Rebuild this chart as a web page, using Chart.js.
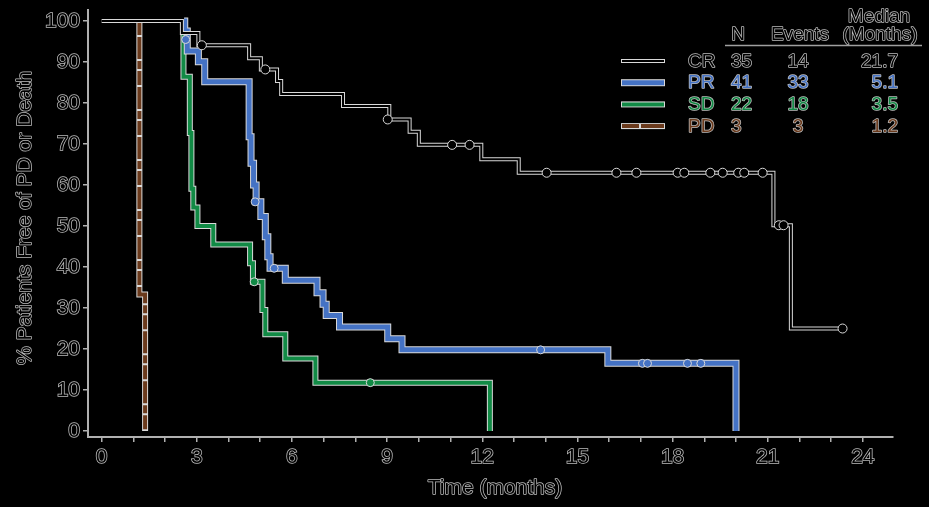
<!DOCTYPE html>
<html>
<head>
<meta charset="utf-8">
<script src="https://cdn.jsdelivr.net/npm/chart.js@4.4.0/dist/chart.umd.min.js"></script>
<style>
  html, body { margin: 0; padding: 0; background: #000; }
  #wrap { width: 929px; height: 507px; position: relative; }
</style>
</head>
<body>
<div id="wrap"><canvas id="kmChart"></canvas></div>
<script>
// Kaplan-Meier curves (time in months, % free of PD or death)
const crTime = [0, 2.53, 3.05, 4.65, 5.02, 5.53, 5.66, 7.61, 9.07, 9.71, 10.0, 11.97, 13.15, 21.18, 21.73, 23.36];
const crSurv = [100, 97.1, 94.1, 90.9, 88.2, 85.4, 82.2, 79.3, 76.0, 73.0, 69.8, 66.3, 63.0, 50.2, 25.0, 25.0];
const crCensorTime = [3.16, 5.16, 9.02, 11.05, 11.6, 14.03, 16.23, 16.86, 18.16, 18.37, 19.19, 19.58, 20.07, 20.26, 20.84, 21.35, 21.5, 23.36];
const crCensorSurv = [94.1, 88.2, 76.0, 69.8, 69.8, 63.0, 63.0, 63.0, 63.0, 63.0, 63.0, 63.0, 63.0, 63.0, 63.0, 50.2, 50.2, 25.0];

const prTime = [2.6, 2.62, 2.7, 3.05, 3.25, 4.65, 4.71, 4.79, 4.87, 5.02, 5.16, 5.24, 5.31, 5.79, 6.79, 6.98, 7.08, 7.5, 9.02, 9.47, 15.96, 20.0];
const prSurv = [100, 97.6, 92.7, 90.1, 85.2, 71.8, 65.3, 60.0, 55.9, 52.3, 47.4, 42.5, 39.7, 36.8, 33.7, 30.9, 28.2, 25.4, 22.5, 19.8, 16.5, 0];
const prCensorTime = [2.65, 4.84, 5.44, 13.84, 17.05, 17.21, 18.47, 18.89];
const prCensorSurv = [95.5, 55.9, 39.7, 19.8, 16.5, 16.5, 16.5, 16.5];

const sdTime = [2.58, 2.58, 2.78, 2.83, 2.89, 3.02, 3.52, 4.68, 4.77, 5.07, 5.16, 5.79, 6.74, 12.24];
const sdSurv = [100, 86.4, 72.7, 59.1, 54.5, 50.0, 45.5, 40.9, 36.4, 29.5, 23.6, 17.7, 11.8, 0];
const sdCensorTime = [4.81, 8.47];
const sdCensorSurv = [36.4, 11.8];

const pdTime = [1.19, 1.19, 1.37];
const pdSurv = [100, 33.3, 0];

// legend table
const groups = ['CR', 'PR', 'SD', 'PD'];
const groupN = ['35', '41', '22', '3'];
const groupEvents = ['14', '33', '18', '3'];
const groupMedian = ['21.7', '5.1', '3.5', '1.2'];
const groupColors = ['#000000', '#4472c4', '#118a45', '#6b3a1c'];
const groupWidths = [2, 5, 4, 4];

const xTickLabels = [0, 3, 6, 9, 12, 15, 18, 21, 24];

const OUTLINE = '#d9d9d9';
const TEXT_EDGE = '#bdbdbd';
const FONT = '"Liberation Sans", Arial, sans-serif';

function pts(xs, ys) {
    return xs.map((x, i) => ({ x: x, y: ys[i] }));
}

function curve(label, xs, ys, idx, order, dash) {
    const w = groupWidths[idx];
    return [
        {
            label: label + ' outline', data: pts(xs, ys), stepped: 'before',
            borderColor: OUTLINE, borderWidth: w + 2, pointRadius: 0,
            borderJoinStyle: 'miter', order: order + 1
        },
        {
            label: label, data: pts(xs, ys), stepped: 'before',
            borderColor: groupColors[idx], borderWidth: w, pointRadius: 0,
            borderJoinStyle: 'miter', borderDash: dash || [], order: order
        }
    ];
}

function censors(label, xs, ys, idx) {
    return {
        label: label + ' censored', data: pts(xs, ys), showLine: false,
        pointRadius: idx === 0 ? 4.5 : 4, pointBackgroundColor: groupColors[idx],
        pointBorderColor: OUTLINE, pointBorderWidth: 1, order: 0
    };
}

function outlinedText(ctx, text, x, y, color, align) {
    ctx.textAlign = align;
    ctx.lineWidth = 1.5;
    ctx.lineJoin = 'round';
    ctx.strokeStyle = TEXT_EDGE;
    ctx.strokeText(text, x, y);
    ctx.fillStyle = color;
    ctx.fillText(text, x, y);
}

// draws axis titles and the N / Events / Median table
const decorations = {
    id: 'decorations',
    afterDraw(chart) {
        const ctx = chart.ctx;
        ctx.save();
        ctx.textBaseline = 'alphabetic';

        ctx.font = '21px ' + FONT;
        outlinedText(ctx, 'Time (months)', 495, 494, '#000', 'center');
        ctx.save();
        ctx.translate(31, 218);
        ctx.rotate(-Math.PI / 2);
        outlinedText(ctx, '% Patients Free of PD or Death', 0, 0, '#000', 'center');
        ctx.restore();

        ctx.font = '19px ' + FONT;
        outlinedText(ctx, 'Median', 879, 22, '#000', 'center');
        outlinedText(ctx, '(Months)', 880, 40, '#000', 'center');
        outlinedText(ctx, 'N', 738, 40, '#000', 'center');
        outlinedText(ctx, 'Events', 800, 40, '#000', 'center');
        ctx.strokeStyle = '#a0a0a0';
        ctx.lineWidth = 1.5;
        ctx.beginPath();
        ctx.moveTo(725, 45.5);
        ctx.lineTo(922, 45.5);
        ctx.stroke();

        groups.forEach((g, i) => {
            const base = 66.5 + i * 21.7;
            const mid = base - 5.5;
            const w = groupWidths[i];
            ctx.fillStyle = OUTLINE;
            ctx.fillRect(621, mid - w / 2 - 1, 44, w + 2);
            ctx.strokeStyle = groupColors[i];
            ctx.lineWidth = w;
            ctx.setLineDash(i === 3 ? [17, 2, 30] : []);
            ctx.beginPath();
            ctx.moveTo(622, mid);
            ctx.lineTo(664, mid);
            ctx.stroke();
            ctx.setLineDash([]);
            const c = groupColors[i];
            outlinedText(ctx, g, 688, base, c, 'left');
            outlinedText(ctx, groupN[i], 731, base, c, 'left');
            outlinedText(ctx, groupEvents[i], 798, base, c, 'center');
            outlinedText(ctx, groupMedian[i], 898, base, c, 'right');
        });
        ctx.restore();
    }
};

const datasets = [].concat(
    curve('PD', pdTime, pdSurv, 3, 8, [14, 2, 22, 2, 8, 2]),
    curve('SD', sdTime, sdSurv, 2, 6),
    curve('PR', prTime, prSurv, 1, 4),
    curve('CR', crTime, crSurv, 0, 2),
    [censors('CR', crCensorTime, crCensorSurv, 0),
     censors('PR', prCensorTime, prCensorSurv, 1),
     censors('SD', sdCensorTime, sdCensorSurv, 2)]
);

const tickFont = { family: FONT, size: 21 };

new Chart(document.getElementById('kmChart').getContext('2d'), {
    type: 'line',
    data: { datasets: datasets },
    options: {
        responsive: true,
        maintainAspectRatio: false,
        animation: false,
        layout: { padding: { top: 10, right: 36, left: 0, bottom: 0 } },
        plugins: { legend: { display: false }, tooltip: { enabled: false } },
        scales: {
            x: {
                type: 'linear',
                min: -0.43,
                max: 24.95,
                afterFit: (scale) => { scale.height = 70; scale.paddingLeft = 0; scale.paddingRight = 0; },
                border: { color: '#b0b0b0', width: 2 },
                grid: { drawOnChartArea: false, drawTicks: true, tickLength: 5, color: '#b0b0b0', lineWidth: 1.5 },
                ticks: {
                    stepSize: 1,
                    includeBounds: false,
                    autoSkip: false,
                    maxRotation: 0,
                    padding: 3,
                    color: '#000',
                    textStrokeColor: TEXT_EDGE,
                    textStrokeWidth: 1.5,
                    font: tickFont,
                    callback: (v) => xTickLabels.includes(v) ? String(v) : ''
                }
            },
            y: {
                type: 'linear',
                min: -1.46,
                max: 102.7,
                afterFit: (scale) => { scale.width = 88; scale.paddingTop = 0; scale.paddingBottom = 0; },
                border: { color: '#b0b0b0', width: 2 },
                grid: { drawOnChartArea: false, drawTicks: true, tickLength: 5, color: '#b0b0b0', lineWidth: 1.5 },
                ticks: {
                    stepSize: 10,
                    includeBounds: false,
                    padding: 3,
                    color: '#000',
                    textStrokeColor: TEXT_EDGE,
                    textStrokeWidth: 1.5,
                    font: tickFont
                }
            }
        }
    },
    plugins: [decorations]
});
</script>
</body>
</html>
